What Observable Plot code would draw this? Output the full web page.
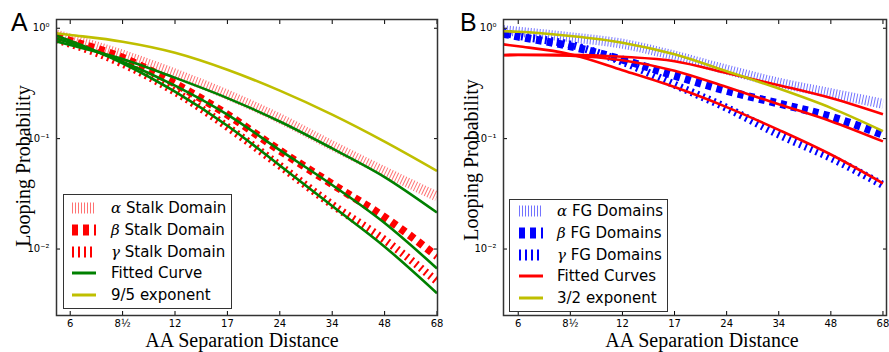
<!DOCTYPE html>
<html><head><meta charset="utf-8">
<script src="https://cdn.jsdelivr.net/npm/d3@7"></script>
<script src="https://cdn.jsdelivr.net/npm/@observablehq/plot@0.6"></script>
<style>
body{margin:0;background:#fff;}
#fig{position:relative;width:889px;height:352px;overflow:hidden;font-family:"DejaVu Sans",sans-serif;}
.panel{position:absolute;top:0;}
.serif{position:absolute;font-family:"Liberation Serif","DejaVu Serif",serif;font-size:20px;color:#000;white-space:nowrap;transform:translate(-50%,-50%);}
.letter{position:absolute;font-family:"Liberation Sans",Arial,sans-serif;font-size:25px;color:#000;line-height:normal;}
.legend{position:absolute;background:#fff;border:1px solid #333;box-sizing:border-box;}
.row{position:absolute;left:0;height:20px;white-space:nowrap;font-size:15px;font-family:"DejaVu Sans",sans-serif;color:#000;}
.row svg{position:absolute;top:3px;}
.row span.t{position:absolute;top:0px;line-height:20px;}
.greek{font-family:"DejaVu Serif","Liberation Serif",serif;font-style:italic;}
</style>
</head><body>
<div id="fig"></div>
<script>
// ---- data ----
const xTicks = [6, 8.485, 12, 16.97, 24, 33.94, 48, 67.88];
const xTickLabels = ["6", "8½", "12", "17", "24", "34", "48", "68"];
const yTicks = [1, 0.1, 0.01];
const yTickLabels = ["10⁰", "10⁻¹", "10⁻²"];

const sepA = [5.48, 6, 8.485, 12, 16.97, 24, 33.94, 48, 67.88];
const stalkAlpha = [0.873, 0.804, 0.575, 0.388, 0.25, 0.152, 0.0865, 0.0503, 0.0299];
const stalkBeta  = [0.84, 0.77, 0.54, 0.315, 0.165, 0.078, 0.0387, 0.0194, 0.0086];
const stalkGamma = [0.787, 0.724, 0.477, 0.266, 0.128, 0.057, 0.0252, 0.0121, 0.0051];
const fitStalkAlpha = [0.76, 0.705, 0.527, 0.356, 0.233, 0.143, 0.0815, 0.0449, 0.0214];
const fitStalkBeta  = [0.803, 0.739, 0.497, 0.302, 0.165, 0.0787, 0.038, 0.0172, 0.00667];
const fitStalkGamma = [0.855, 0.77, 0.482, 0.266, 0.131, 0.0572, 0.0245, 0.0105, 0.00398];
const exponent95 = [0.90, 0.87, 0.755, 0.60, 0.421, 0.272, 0.165, 0.094, 0.051];

const sepB = [5.44, 6, 8.485, 12, 16.97, 24, 33.94, 48, 67.88];
const fgAlpha = [0.959, 0.93, 0.829, 0.724, 0.564, 0.421, 0.321, 0.258, 0.207];
const fgBeta  = [0.89, 0.84, 0.687, 0.519, 0.372, 0.271, 0.208, 0.158, 0.1085];
const fgGamma = [0.91, 0.855, 0.71, 0.498, 0.308, 0.19, 0.109, 0.067, 0.038];
const fitFgAlpha = [0.572, 0.576, 0.576, 0.552, 0.503, 0.393, 0.305, 0.233, 0.166];
const fitFgBeta  = [0.570, 0.572, 0.563, 0.513, 0.413, 0.293, 0.205, 0.144, 0.0944];
const fitFgGamma = [0.714, 0.687, 0.582, 0.417, 0.293, 0.193, 0.12, 0.0718, 0.0394];
const exponent32 = [0.94, 0.93, 0.85, 0.74, 0.58, 0.407, 0.284, 0.19, 0.117];

const legendA = ["Stalk Domain", "Stalk Domain", "Stalk Domain", "Fitted Curve", "9/5 exponent"];
const legendB = ["FG Domains", "FG Domains", "FG Domains", "Fitted Curves", "3/2 exponent"];
const greek = ["α", "β", "γ"];

// ---- styles ----
const RED = "#ff0000", GREEN = "#008000", YEL = "#bfbf00", BLUE = "#0000ff";
const styleAlpha = {width: 10, dash: "1,2", opacity: 0.55};
const styleBeta = {width: 8, dash: "6,5", opacity: 1};
const styleGamma = {width: 8, dash: "2,4", opacity: 1};
const styleLine = {width: 2.6, dash: null, opacity: 1};

function makePanel({width, marginLeft, marginRight, xDomain, xs, series}) {
  const fmtY = new Map(yTicks.map((t, i) => [t, yTickLabels[i]]));
  const marks = series.map(s => Plot.line(xs.map((x, i) => ({x, y: s.values[i]})), {
    x: "x", y: "y", stroke: s.color, strokeWidth: s.width,
    strokeDasharray: s.dash || undefined, strokeOpacity: s.opacity,
    strokeLinecap: "butt", strokeLinejoin: "miter",
    curve: "monotone-x", clip: true
  }));
  marks.push(
    Plot.axisX(xTicks, {anchor: "bottom", tickSize: -4, tickFormat: () => "", label: null}),
    Plot.axisX(xTicks, {anchor: "top", tickSize: -4, tickFormat: () => "", label: null}),
    Plot.text(xTicks, {x: d => d, text: (d, i) => xTickLabels[i], frameAnchor: "bottom", lineAnchor: "top", dy: 4, fontSize: 10}),
    Plot.axisY(yTicks, {anchor: "left", tickSize: -4, tickPadding: 11, tickFormat: d => fmtY.get(d), label: null, fontSize: 10}),
    Plot.axisY(yTicks, {anchor: "right", tickSize: -4, tickFormat: () => "", label: null}),
    Plot.frame({stroke: "#333", strokeWidth: 1.5})
  );
  return Plot.plot({
    width, height: 352, marginLeft, marginRight, marginTop: 19, marginBottom: 37,
    x: {type: "log", domain: xDomain},
    y: {type: "log", domain: [0.0025, 1.2]},
    style: {fontFamily: "DejaVu Sans, sans-serif", fontSize: "10px", background: "transparent", color: "#000"},
    marks
  });
}

const fig = document.getElementById("fig");

function addPanel(left, plot) {
  const d = document.createElement("div");
  d.className = "panel"; d.style.left = left + "px";
  d.appendChild(plot); fig.appendChild(d);
}

addPanel(0, makePanel({
  width: 445, marginLeft: 56, marginRight: 8, xDomain: [5.48, 68.1], xs: sepA,
  series: [
    {values: stalkAlpha, color: RED, ...styleAlpha},
    {values: stalkBeta, color: RED, ...styleBeta},
    {values: stalkGamma, color: RED, ...styleGamma},
    {values: fitStalkAlpha, color: GREEN, ...styleLine},
    {values: fitStalkBeta, color: GREEN, ...styleLine},
    {values: fitStalkGamma, color: GREEN, ...styleLine},
    {values: exponent95, color: YEL, ...styleLine}
  ]
}));

addPanel(445, makePanel({
  width: 444, marginLeft: 58, marginRight: 3, xDomain: [5.44, 69.5], xs: sepB,
  series: [
    {values: fgAlpha, color: BLUE, ...styleAlpha},
    {values: fgBeta, color: BLUE, ...styleBeta},
    {values: fgGamma, color: BLUE, ...styleGamma},
    {values: fitFgAlpha, color: RED, ...styleLine},
    {values: fitFgBeta, color: RED, ...styleLine},
    {values: fitFgGamma, color: RED, ...styleLine},
    {values: exponent32, color: YEL, ...styleLine}
  ]
}));

function addText(cls, text, x, y, rotate) {
  const d = document.createElement("div");
  d.className = cls; d.textContent = text;
  d.style.left = x + "px"; d.style.top = y + "px";
  if (rotate) d.style.transform = "translate(-50%,-50%) rotate(-90deg)";
  fig.appendChild(d);
}
addText("serif", "Looping Probability", 23, 166, true);
addText("serif", "Looping Probability", 471, 160, true);
addText("serif", "AA Separation Distance", 242, 340);
addText("serif", "AA Separation Distance", 702, 340);
addText("letter", "A", 11, 8);
addText("letter", "B", 460, 8);

function addLegend({left, top, width, height, sampleX, textX, rowY0, rowStep, labels, dashColor, lineColor}) {
  const box = document.createElement("div");
  box.className = "legend";
  Object.assign(box.style, {left: left + "px", top: top + "px", width: width + "px", height: height + "px"});
  const styles = [
    {c: dashColor, ...styleAlpha}, {c: dashColor, ...styleBeta}, {c: dashColor, ...styleGamma},
    {c: lineColor, ...styleLine, width: 3}, {c: YEL, ...styleLine, width: 3}
  ];
  labels.forEach((lab, i) => {
    const row = document.createElement("div");
    row.className = "row";
    row.style.top = (rowY0 + i * rowStep - top - 10) + "px";
    row.style.width = (width - 2) + "px";
    const s = styles[i];
    const svg = d3.create("svg").attr("width", 26).attr("height", 14)
      .style("left", (sampleX - left - 1) + "px");
    svg.append("line").attr("x1", 0).attr("x2", 24).attr("y1", 7).attr("y2", 7)
      .attr("stroke", s.c).attr("stroke-width", s.dash ? 11 : s.width)
      .attr("stroke-dasharray", s.dash).attr("stroke-opacity", s.opacity);
    row.appendChild(svg.node());
    const t = document.createElement("span");
    t.className = "t";
    t.style.left = (textX - left - 1) + "px";
    if (i < 3) {
      const g = document.createElement("span");
      g.className = "greek"; g.textContent = greek[i];
      t.appendChild(g);
      t.appendChild(document.createTextNode(" " + lab));
    } else {
      t.textContent = lab;
    }
    row.appendChild(t);
    box.appendChild(row);
  });
  fig.appendChild(box);
}

addLegend({left: 63, top: 194, width: 169, height: 115, sampleX: 72, textX: 111, rowY0: 207, rowStep: 21.8,
  labels: legendA, dashColor: RED, lineColor: GREEN});
addLegend({left: 509, top: 199, width: 159, height: 113, sampleX: 519, textX: 557, rowY0: 210, rowStep: 21.75,
  labels: legendB, dashColor: BLUE, lineColor: RED});
</script>
</body></html>
